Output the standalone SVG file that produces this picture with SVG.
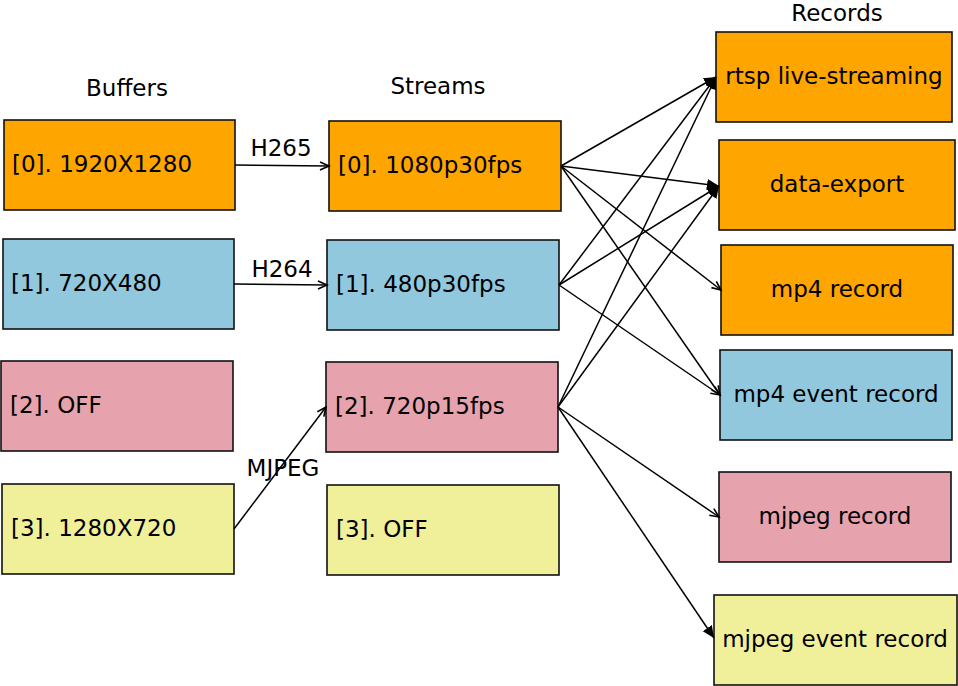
<svg xmlns="http://www.w3.org/2000/svg" width="958" height="686" viewBox="0 0 958 686">
<style>
text{font-family:"DejaVu Sans","Liberation Sans",sans-serif;font-size:23px;fill:#000}
.box{stroke:#111;stroke-width:1.6}
.o{fill:#FFA500}.b{fill:#91C8DD}.p{fill:#E7A3AD}.y{fill:#F0F09A}
.c{text-anchor:middle}
.ln{fill:none;stroke:#000;stroke-width:1.5}
.op{marker-end:url(#openArrow)}
.fl{marker-end:url(#fillArrow)}
</style>
<defs>
<marker id="openArrow" markerUnits="userSpaceOnUse" markerWidth="12" markerHeight="12" refX="10" refY="5" orient="auto" viewBox="0 0 12 10">
<path d="M1,1 L10,5 L1,9" fill="none" stroke="#000" stroke-width="1.6"/>
</marker>
<marker id="fillArrow" markerUnits="userSpaceOnUse" markerWidth="13" markerHeight="12" refX="12" refY="5.5" orient="auto" viewBox="0 0 13 11">
<path d="M0,0 L12,5.5 L0,11 z" fill="#000"/>
</marker>
</defs>
<rect width="958" height="686" fill="#fff"/>
<g id="headers">
<text class="c" x="127" y="96">Buffers</text>
<text class="c" x="438" y="94">Streams</text>
<text class="c" x="837" y="21">Records</text>
</g>
<g id="buffer0"><rect class="box o" x="4" y="120" width="231" height="90"/><text x="12" y="172">[0]. 1920X1280</text></g>
<g id="buffer1"><rect class="box b" x="3" y="239" width="231" height="90"/><text x="11" y="291">[1]. 720X480</text></g>
<g id="buffer2"><rect class="box p" x="1" y="361" width="232" height="90"/><text x="10" y="413">[2]. OFF</text></g>
<g id="buffer3"><rect class="box y" x="2" y="484" width="232" height="90"/><text x="11" y="536">[3]. 1280X720</text></g>
<g id="stream0"><rect class="box o" x="329" y="121" width="232" height="90"/><text x="338" y="173">[0]. 1080p30fps</text></g>
<g id="stream1"><rect class="box b" x="327" y="240" width="232" height="90"/><text x="336" y="292">[1]. 480p30fps</text></g>
<g id="stream2"><rect class="box p" x="326" y="362" width="232" height="90"/><text x="335" y="414">[2]. 720p15fps</text></g>
<g id="stream3"><rect class="box y" x="327" y="485" width="232" height="90"/><text x="336" y="537">[3]. OFF</text></g>
<g id="rec-rtsp"><rect class="box o" x="716" y="32" width="236" height="90"/><text class="c" x="834" y="84">rtsp live-streaming</text></g>
<g id="rec-export"><rect class="box o" x="719" y="140" width="236" height="90"/><text class="c" x="837" y="192">data-export</text></g>
<g id="rec-mp4"><rect class="box o" x="721" y="245" width="232" height="90"/><text class="c" x="837" y="297">mp4 record</text></g>
<g id="rec-mp4event"><rect class="box b" x="720" y="350" width="232" height="90"/><text class="c" x="836" y="402">mp4 event record</text></g>
<g id="rec-mjpeg"><rect class="box p" x="719" y="472" width="232" height="90"/><text class="c" x="835" y="524">mjpeg record</text></g>
<g id="rec-mjpegevent"><rect class="box y" x="714" y="595" width="243" height="90"/><text class="c" x="835" y="647">mjpeg event record</text></g>
<g id="connectors">
<line class="ln op" x1="235" y1="165" x2="329" y2="166"/>
<line class="ln op" x1="234" y1="284" x2="327" y2="285"/>
<line class="ln op" x1="234" y1="529" x2="326" y2="407"/>
<line class="ln fl" x1="561" y1="166" x2="716" y2="77"/>
<line class="ln fl" x1="561" y1="166" x2="719" y2="186"/>
<line class="ln op" x1="561" y1="166" x2="721" y2="290"/>
<line class="ln op" x1="561" y1="166" x2="720" y2="395"/>
<line class="ln fl" x1="559" y1="285" x2="716" y2="77"/>
<line class="ln fl" x1="559" y1="285" x2="719" y2="186"/>
<line class="ln op" x1="559" y1="285" x2="720" y2="395"/>
<line class="ln fl" x1="558" y1="407" x2="716" y2="77"/>
<line class="ln fl" x1="558" y1="407" x2="719" y2="186"/>
<line class="ln op" x1="558" y1="407" x2="719" y2="517"/>
<line class="ln fl" x1="558" y1="407" x2="714" y2="638"/>
<text class="c" x="281" y="156">H265</text>
<text class="c" x="282" y="277">H264</text>
<text class="c" x="283" y="476">MJPEG</text>
</g>
</svg>
